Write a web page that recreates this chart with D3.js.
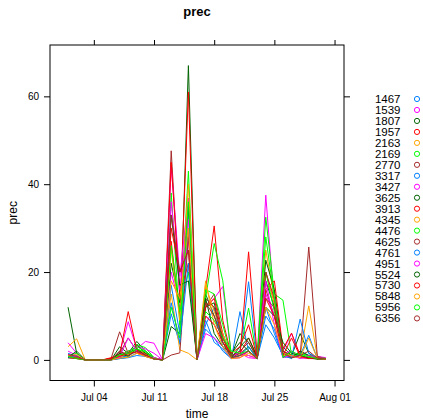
<!DOCTYPE html>
<html>
<head>
<meta charset="utf-8">
<script src="https://cdn.jsdelivr.net/npm/d3@7"></script>
<style>
    body { margin: 0; background: #fff; }
    svg { font-family: "Liberation Sans", Arial, sans-serif; }
</style>
</head>
<body>
<svg width="423" height="420"></svg>
<script>
// stations (legend order)
var stations = ["1467", "1539", "1807", "1957", "2163", "2169", "2770", "3317", "3427", "3625",
    "3913", "4345", "4476", "4625", "4761", "4951", "5524", "5730", "5848", "5956", "6356"];

// days of July
var days = d3.range(1, 32);

// daily prec per station, Jul 01 .. Jul 31
var prec1467 = [1.5,0.8,0,0,0,0,0.3,0.6,1.5,1.0,0.2,0, 10.5,3.5,30,0,9,4,2.5,0.3,11,2,0.4,8,5,1,0.3,2,1,0.3,0.2];
var prec1539 = [3.9,1.5,0,0,0,0.2,1.5,8.7,2.5,4.2,3.8,0, 20,12,28,0,12,14,16.7,1,1.5,0.5,0.3,37.5,12,2,6,1,0.5,0.8,0.5];
var prec1807 = [12,1.5,0,0,0,0,3,1.5,4.2,2,0.5,0, 7.6,6,67,0,15,10,5,1,6,4,0.5,18,12,3,1,6,1.5,0.2,0.3];
var prec1957 = [0.5,0.3,0,0,0,0.3,1,2,1.5,1,0.3,0, 27,10,61,0,16,30.5,9,1,1.5,5,0.8,20,13,2,1,0.5,0.4,0.3,0.2];
var prec2163 = [3,4.8,0,0,0,0,0.5,1,2,1.5,0.3,0, 15,2.3,1.5,0,13,12,4,0.5,1,1,0.3,25,14,2,0.5,1,12.3,0.5,0.3];
var prec2169 = [1,1.5,0,0,0,0,1,1,3.5,2.8,0.5,0, 38,8,43,0,14,26.5,18,1,2,11.8,0.3,32.5,15,13.6,1,1.5,1,0.2,0.2];
var prec2770 = [0.8,0.5,0,0,0,0.3,6.4,1.5,2.5,1.5,0.3,0, 47.6,14,30,0,12,15,6,0.5,1.5,3,0.5,16,10,1,0.5,1,25.7,0.8,0.3];
var prec3317 = [0.8,0.5,0,0,0,0,0.5,1,2,1.2,0.3,0, 17,6,34,0,8,12,3,0.5,2,17.8,0.5,10,7,0.5,1,1,5.6,0.3,0.2];
var prec3427 = [2,1,0,0,0,0,0.5,2,3,2.5,1.5,0, 44,19,36.8,0,10,8,6,0.5,2,1,0.4,15,10,1.5,2,0.5,0.3,0.3,0.2];
var prec3625 = [1,0.8,0,0,0,0,2,1,3.5,1.5,0.3,0, 22,13,35,0,12,13,4,0.5,3,5,0.6,22.7,16,2,0.5,2,1,0.3,0.2];
var prec3913 = [1,0.5,0,0,0,0.5,1.2,11,2.2,1.3,0.4,0, 45,15,22,0,12,14,5,0.5,1,24.6,1.2,16,18,2.5,6.1,1,0.5,0.2,0.3];
var prec4345 = [1,0.8,0,0,0,0,0.8,1.2,2.5,1.2,0.4,0, 25,9,40,0,17,11,6,0.5,0.5,2,0.5,20,13,1,0.8,0.5,0.8,0.5,0.3];
var prec4476 = [0.5,0.5,0,0,0,0,0.8,2,3,2,0.3,0, 26,11,20,0,16,15,8,0.5,1,3,0.2,20,11,2,0.5,1.5,0.5,0.3,0.2];
var prec4625 = [0.5,0.3,0,0,0,0,1.5,5,2,1,0.3,0, 1.1,1.6,28,0,14,12,5,1,2,4,0.4,20,14,2,1,0.5,1,0.3,0.2];
var prec4761 = [0.5,1,0,0,0,0,0.3,0.5,1,0.8,0.2,0, 13,4,22,0,7,5,2,0.3,1,3,0.2,12,6,0.8,0.5,9.3,1.5,0.5,0.3];
var prec4951 = [1.2,0.8,0,0,0,0,0.7,5,2,1,0.5,0, 36,16,32,0,6,5,3,0.3,0.5,2,0.2,18,8,0.5,1,0.3,1,0.4,0.3];
var prec5524 = [0.6,2,0,0,0,0,1.5,0.8,2.5,1,0.2,0, 33,17,18,0,14,6,3,1.5,4,2,0.3,12,10,4,1.5,1,0.4,0.2,0.3];
var prec5730 = [0.8,0.4,0,0,0,0.2,0.8,1.5,1.8,0.8,0.2,0, 30,20,25,0,10,8,4,1.5,3,8,0.5,14,10,1,5,0.8,0.3,0.5,0.2];
var prec5848 = [0.8,1.2,0,0,0,0,0.4,0.6,1.5,0.8,0.2,0, 18,14,30,0,18,8,3,0.3,0.5,1.5,0.5,12,8,1.5,1,0.5,5,0.3,0.2];
var prec5956 = [0.8,0.3,0,0,0,0,1.2,1.5,2.5,1.8,0.2,0, 12,5,36,0,11,9,5,2,1.5,2,0.3,28,14,0.5,2,1,0.8,0.3,0.3];
var prec6356 = [1.2,0.8,0,0,0,0,2,1,2,1.2,0.2,0, 33,20,25,0,13,10,4,0.5,1,2,0.3,14,12,1.5,0.5,1,2,0.4,0.2];

var series = [prec1467, prec1539, prec1807, prec1957, prec2163, prec2169, prec2770, prec3317,
    prec3427, prec3625, prec3913, prec4345, prec4476, prec4625, prec4761, prec4951, prec5524,
    prec5730, prec5848, prec5956, prec6356];

var yTicks = [0, 20, 40, 60];
var xTicks = ["2013-07-04", "2013-07-11", "2013-07-18", "2013-07-25", "2013-08-01"];

// lattice superpose.symbol colours
var palette = ["#0080ff", "#ff00ff", "#006400", "#ff0000", "#ffa500", "#00ff00", "#a52a2a"];

(function() {
    var svg = d3.select("svg");
    var parse = d3.timeParse("%Y-%m-%d");
    var dates = days.map(function(d) { return new Date(2013, 6, d); });

    var left = 50, right = 344, top = 45, bottom = 380.5;

    // lattice pads the data range by 7% each side
    var t0 = dates[0].getTime(), t1 = dates[dates.length - 1].getTime();
    var tpad = (t1 - t0) * 0.07;
    var x = d3.scaleTime()
        .domain([new Date(t0 - tpad), new Date(t1 + tpad)])
        .range([left, right]);

    var ymax = d3.max(series, function(s) { return d3.max(s); });
    var ymin = d3.min(series, function(s) { return d3.min(s); });
    var ypad = (ymax - ymin) * 0.07;
    var y = d3.scaleLinear()
        .domain([ymin - ypad, ymax + ypad])
        .range([bottom, top]);

    var tickDates = xTicks.map(parse);
    var fmt = d3.timeFormat("%b %d");

    // lines
    var line = d3.line()
        .x(function(d, i) { return x(dates[i]); })
        .y(function(d) { return y(d); });

    svg.append("g").selectAll("path")
        .data(series)
        .enter().append("path")
        .attr("d", line)
        .attr("fill", "none")
        .attr("stroke", function(d, i) { return palette[i % palette.length]; })
        .attr("stroke-width", 1);

    // axes: labels bottom/left, ticks on all four sides
    svg.append("g")
        .attr("transform", "translate(0," + bottom + ")")
        .call(d3.axisBottom(x).tickValues(tickDates).tickFormat(fmt).tickSize(6).tickPadding(7));
    svg.append("g")
        .attr("transform", "translate(0," + top + ")")
        .call(d3.axisTop(x).tickValues(tickDates).tickFormat("").tickSize(5));
    svg.append("g")
        .attr("transform", "translate(" + left + ",0)")
        .call(d3.axisLeft(y).tickValues(yTicks).tickSize(6).tickPadding(5));
    svg.append("g")
        .attr("transform", "translate(" + right + ",0)")
        .call(d3.axisRight(y).tickValues(yTicks).tickFormat("").tickSize(6));

    svg.selectAll(".domain").remove();
    svg.selectAll(".tick line").attr("stroke", "#000");
    svg.selectAll(".tick text").attr("font-size", 10).attr("font-family", "Liberation Sans, Arial, sans-serif").attr("fill", "#000");

    svg.append("rect")
        .attr("x", left).attr("y", top)
        .attr("width", right - left).attr("height", bottom - top)
        .attr("fill", "none").attr("stroke", "#000").attr("stroke-width", 1);

    // titles
    svg.append("text")
        .attr("x", (left + right) / 2).attr("y", 16)
        .attr("text-anchor", "middle")
        .attr("font-size", 13).attr("font-weight", "bold")
        .text("prec");
    svg.append("text")
        .attr("x", (left + right) / 2).attr("y", 418)
        .attr("text-anchor", "middle")
        .attr("font-size", 12)
        .text("time");
    svg.append("text")
        .attr("transform", "translate(17," + ((top + bottom) / 2) + ") rotate(-90)")
        .attr("text-anchor", "middle")
        .attr("font-size", 12)
        .text("prec");

    // legend
    var key = svg.append("g").selectAll("g")
        .data(stations)
        .enter().append("g")
        .attr("transform", function(d, i) { return "translate(0," + (99 + i * 10.97) + ")"; });

    key.append("text")
        .attr("x", 400.5).attr("y", 4)
        .attr("text-anchor", "end")
        .attr("font-size", 11.5)
        .text(function(d) { return d; });

    key.append("circle")
        .attr("cx", 417).attr("cy", 0).attr("r", 2.6)
        .attr("fill", "none")
        .attr("stroke", function(d, i) { return palette[i % palette.length]; })
        .attr("stroke-width", 1);
})();
</script>
</body>
</html>
